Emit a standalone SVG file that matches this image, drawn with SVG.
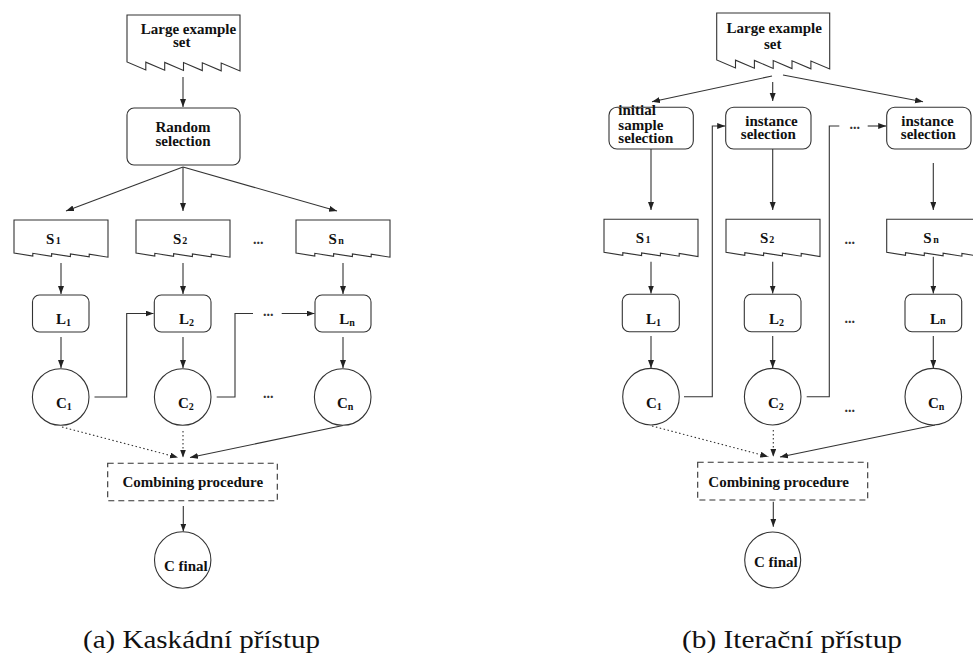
<svg xmlns="http://www.w3.org/2000/svg" width="973" height="653" viewBox="0 0 973 653">
<style>
text{font-family:'Liberation Serif','Tinos','Times New Roman','DejaVu Serif',serif}
.t{font-weight:bold;font-size:15px;fill:#111}
.m{text-anchor:middle}
.sub{font-size:10px}
.shape{fill:#fff;stroke:#333;stroke-width:1.1}
.ln{fill:none;stroke:#333;stroke-width:1.1}
.arr{marker-end:url(#ah)}
.dot{stroke-dasharray:1.5,2.5}
.dash{stroke-dasharray:6,4}
.cap{font-size:25px;fill:#111}
.el{font-weight:bold;font-size:14px;fill:#333}
</style>
<defs>
<marker id="ah" markerUnits="userSpaceOnUse" markerWidth="9" markerHeight="7" refX="8" refY="3" orient="auto">
<path d="M0,0 L8,3 L0,6 Z" fill="#222"/>
</marker>
<path id="bigdoc" d="M113,0 H0 V47 L18.8,55 V47.2 L37.7,55.2 V47.4 L56.5,55.4 V47.6 L75.3,55.6 V47.8 L94.2,55.8 V48 L113,56 Z"/>
<path id="sdoc" d="M94,0 H0 V33 L18.8,36 V33.3 L37.6,36.3 V33.6 L56.4,36.6 V33.9 L75.2,36.9 V34.2 L94,37.2 Z"/>
</defs>

<!-- ============ LEFT PANEL (a) ============ -->
<g id="a-connectors">
<line class="ln arr" x1="183" y1="77" x2="183" y2="107"/>
<line class="ln arr" x1="183" y1="167" x2="66" y2="211"/>
<line class="ln arr" x1="183" y1="167" x2="183" y2="211"/>
<line class="ln arr" x1="183" y1="167" x2="337" y2="211"/>
<line class="ln arr" x1="61" y1="263" x2="61" y2="294"/>
<line class="ln arr" x1="183" y1="263" x2="183" y2="294"/>
<line class="ln arr" x1="343" y1="263" x2="343" y2="294"/>
<line class="ln arr" x1="61" y1="337" x2="61" y2="368"/>
<line class="ln arr" x1="183" y1="337" x2="183" y2="368"/>
<line class="ln arr" x1="343" y1="337" x2="343" y2="368"/>
<polyline class="ln arr" points="94.5,397 126.7,397 126.7,313.5 153.5,313.5"/>
<polyline class="ln" points="216.7,397 235,397 235,313.5 253,313.5"/>
<line class="ln arr" x1="281.7" y1="313.5" x2="314.5" y2="313.5"/>
<line class="ln dot arr" x1="62" y1="427" x2="178" y2="457.5"/>
<line class="ln dot arr" x1="183" y1="431" x2="183" y2="457.5"/>
<line class="ln arr" x1="343" y1="425.5" x2="190" y2="457.5"/>
<line class="ln arr" x1="183.3" y1="506" x2="183.3" y2="531.5"/>
</g>
<text class="el" x="263" y="316">...</text>
<text class="el" x="253" y="244">...</text>
<text class="el" x="263" y="398">...</text>

<g id="a-large-set">
<use href="#bigdoc" class="shape" x="127" y="15"/>
<text class="t m" x="188.5" y="34.3">Large example</text>
<text class="t m" x="181.7" y="46.7">set</text>
</g>
<g id="a-random">
<rect class="shape" x="127" y="108" width="113" height="57" rx="7"/>
<text class="t m" x="183" y="131.7">Random</text>
<text class="t m" x="183" y="145.7">selection</text>
</g>
<g id="a-S1"><use href="#sdoc" class="shape" x="14" y="220"/><text class="t" x="46" y="243.5">S<tspan class="sub" dx="1.5">1</tspan></text></g>
<g id="a-S2"><use href="#sdoc" class="shape" x="136" y="220"/><text class="t" x="173" y="243.5">S<tspan class="sub" dx="1">2</tspan></text></g>
<g id="a-Sn"><use href="#sdoc" class="shape" x="296" y="220"/><text class="t" x="328.5" y="243.5">S<tspan class="sub" dx="1.5">n</tspan></text></g>
<g id="a-L1"><rect class="shape" x="32.5" y="295" width="56.5" height="37" rx="7"/><text class="t" x="56" y="324.3">L<tspan class="sub" dy="2">1</tspan></text></g>
<g id="a-L2"><rect class="shape" x="154.3" y="295" width="56.7" height="37" rx="7"/><text class="t" x="179" y="324.3">L<tspan class="sub" dy="2">2</tspan></text></g>
<g id="a-Ln"><rect class="shape" x="315" y="295" width="56" height="37" rx="7"/><text class="t" x="339.3" y="324.3">L<tspan class="sub" dy="2">n</tspan></text></g>
<g id="a-C1"><circle class="shape" cx="60.7" cy="397" r="28.3"/><text class="t" x="56" y="408">C<tspan class="sub" dy="1.5">1</tspan></text></g>
<g id="a-C2"><circle class="shape" cx="182.7" cy="397" r="28.3"/><text class="t" x="178" y="408">C<tspan class="sub" dy="1.5">2</tspan></text></g>
<g id="a-Cn"><circle class="shape" cx="342.7" cy="397" r="28.3"/><text class="t" x="337" y="408">C<tspan class="sub" dy="1.5">n</tspan></text></g>
<g id="a-combining">
<rect class="ln dash" x="107.7" y="463.3" width="169.6" height="37.4"/>
<text class="t m" x="192.8" y="486.7">Combining procedure</text>
</g>
<g id="a-cfinal">
<circle class="shape" cx="182.7" cy="560" r="28.2"/>
<text class="t" x="164" y="570.7">C final</text>
</g>

<!-- ============ RIGHT PANEL (b) ============ -->
<g id="b-connectors">
<line class="ln arr" x1="772" y1="76" x2="652" y2="101.7"/>
<line class="ln arr" x1="772.7" y1="82" x2="772.7" y2="101"/>
<line class="ln arr" x1="783" y1="75" x2="923" y2="101.7"/>
<line class="ln arr" x1="651" y1="149" x2="651" y2="210"/>
<line class="ln arr" x1="772.7" y1="149" x2="772.7" y2="210"/>
<line class="ln arr" x1="933.3" y1="163" x2="933.3" y2="210"/>
<line class="ln arr" x1="651" y1="261.7" x2="651" y2="293.5"/>
<line class="ln arr" x1="772.7" y1="261.7" x2="772.7" y2="293.5"/>
<line class="ln arr" x1="933.3" y1="256.7" x2="933.3" y2="293.5"/>
<line class="ln arr" x1="651" y1="336" x2="651" y2="368"/>
<line class="ln arr" x1="772.7" y1="336" x2="772.7" y2="368"/>
<line class="ln arr" x1="933.3" y1="336" x2="933.3" y2="368"/>
<polyline class="ln arr" points="684,396.7 712.3,396.7 712.3,126 725.2,126"/>
<polyline class="ln" points="806.7,396.7 829.3,396.7 829.3,126 839.3,126"/>
<line class="ln arr" x1="867.7" y1="126" x2="886.2" y2="126"/>
<line class="ln dot arr" x1="652" y1="426" x2="768.3" y2="456.7"/>
<line class="ln dot arr" x1="773.3" y1="430" x2="773.3" y2="456.7"/>
<line class="ln arr" x1="935" y1="425" x2="780" y2="457"/>
<line class="ln arr" x1="773.3" y1="501.7" x2="773.3" y2="526.7"/>
</g>
<text class="el" x="849.5" y="128.5">...</text>
<text class="el" x="844.5" y="244">...</text>
<text class="el" x="844.5" y="323">...</text>
<text class="el" x="844.5" y="412">...</text>

<g id="b-large-set">
<use href="#bigdoc" class="shape" x="716.7" y="13"/>
<text class="t m" x="774.2" y="33.3">Large example</text>
<text class="t m" x="772.7" y="49.3">set</text>
</g>
<g id="b-initial">
<rect class="shape" x="609" y="107.3" width="84.3" height="41.7" rx="8"/>
<text class="t" x="618.3" y="115">initial</text>
<text class="t" x="618.3" y="130">sample</text>
<text class="t" x="618.3" y="143.3">selection</text>
</g>
<g id="b-inst2">
<rect class="shape" x="725.7" y="107.3" width="85.3" height="41.7" rx="8"/>
<text class="t m" x="771.5" y="126">instance</text>
<text class="t m" x="768.3" y="139.3">selection</text>
</g>
<g id="b-instn">
<rect class="shape" x="886.7" y="107.3" width="84.3" height="41.7" rx="8"/>
<text class="t m" x="927.5" y="126">instance</text>
<text class="t m" x="928.3" y="139.3">selection</text>
</g>
<g id="b-S1"><use href="#sdoc" class="shape" x="604" y="219.3"/><text class="t" x="635.7" y="242.7">S<tspan class="sub" dx="1.5">1</tspan></text></g>
<g id="b-S2"><use href="#sdoc" class="shape" x="726" y="219.3"/><text class="t" x="760" y="242.7">S<tspan class="sub" dx="1">2</tspan></text></g>
<g id="b-Sn"><use href="#sdoc" class="shape" x="886.7" y="219.3"/><text class="t" x="923.3" y="243.3">S<tspan class="sub" dx="1.5">n</tspan></text></g>
<g id="b-L1"><rect class="shape" x="622.3" y="294.3" width="57" height="37.4" rx="7"/><text class="t" x="646" y="323.7">L<tspan class="sub" dy="2">1</tspan></text></g>
<g id="b-L2"><rect class="shape" x="744.3" y="294.3" width="56.7" height="37.4" rx="7"/><text class="t" x="769" y="323.7">L<tspan class="sub" dy="2">2</tspan></text></g>
<g id="b-Ln"><rect class="shape" x="905" y="294.3" width="56.7" height="37.4" rx="7"/><text class="t" x="930" y="323.7">L<tspan class="sub">n</tspan></text></g>
<g id="b-C1"><circle class="shape" cx="651" cy="396.7" r="28.3"/><text class="t" x="646" y="408">C<tspan class="sub" dy="1.5">1</tspan></text></g>
<g id="b-C2"><circle class="shape" cx="772.7" cy="396.7" r="28.3"/><text class="t" x="768" y="408">C<tspan class="sub" dy="1.5">2</tspan></text></g>
<g id="b-Cn"><circle class="shape" cx="933.3" cy="396.7" r="28.3"/><text class="t" x="928" y="408">C<tspan class="sub" dy="1.5">n</tspan></text></g>
<g id="b-combining">
<rect class="ln dash" x="697.7" y="462.3" width="170" height="37.7"/>
<text class="t" x="708.3" y="486.7">Combining procedure</text>
</g>
<g id="b-cfinal">
<circle class="shape" cx="772.7" cy="560" r="28"/>
<text class="t" x="754" y="566.7">C final</text>
</g>

<text class="cap" x="83" y="648" textLength="237" lengthAdjust="spacingAndGlyphs">(a) Kaskádní přístup</text>
<text class="cap" x="682" y="648" textLength="220" lengthAdjust="spacingAndGlyphs">(b) Iterační přístup</text>
</svg>
